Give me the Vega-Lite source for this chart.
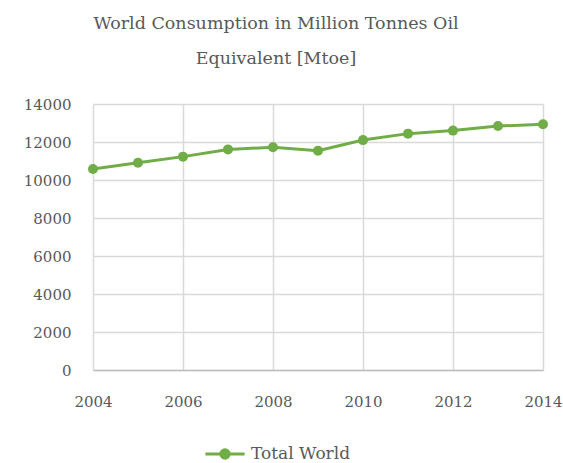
{
  "$schema": "https://vega.github.io/schema/vega-lite/v6.json",
  "width": 450,
  "height": 266,
  "autosize": {"type": "none"},
  "padding": {"left": 93, "top": 104, "right": 20, "bottom": 93},
  "background": "white",
  "title": {
    "text": ["World Consumption in Million Tonnes Oil", "Equivalent [Mtoe]"],
    "font": "DejaVu Serif",
    "fontSize": 17.5,
    "fontWeight": "normal",
    "color": "#595959",
    "lineHeight": 35,
    "anchor": "middle",
    "dx": -42,
    "offset": 30
  },
  "data": {
    "values": [
      {"year": 2004, "mtoe": 10580, "series": "Total World"},
      {"year": 2005, "mtoe": 10910, "series": "Total World"},
      {"year": 2006, "mtoe": 11230, "series": "Total World"},
      {"year": 2007, "mtoe": 11610, "series": "Total World"},
      {"year": 2008, "mtoe": 11720, "series": "Total World"},
      {"year": 2009, "mtoe": 11540, "series": "Total World"},
      {"year": 2010, "mtoe": 12100, "series": "Total World"},
      {"year": 2011, "mtoe": 12440, "series": "Total World"},
      {"year": 2012, "mtoe": 12600, "series": "Total World"},
      {"year": 2013, "mtoe": 12840, "series": "Total World"},
      {"year": 2014, "mtoe": 12930, "series": "Total World"}
    ]
  },
  "encoding": {
    "x": {
      "field": "year",
      "type": "quantitative",
      "scale": {"domain": [2004, 2014], "nice": false, "zero": false},
      "axis": {
        "title": null,
        "values": [2004, 2006, 2008, 2010, 2012, 2014],
        "format": "d",
        "ticks": false,
        "domainColor": "#bfbfbf",
        "domainWidth": 1.5,
        "labelPadding": 24,
        "labelFlush": false
      }
    },
    "y": {
      "field": "mtoe",
      "type": "quantitative",
      "scale": {"domain": [0, 14000], "nice": false},
      "axis": {
        "title": null,
        "values": [0, 2000, 4000, 6000, 8000, 10000, 12000, 14000],
        "format": "d",
        "ticks": false,
        "domain": false,
        "labelPadding": 22
      }
    },
    "color": {
      "field": "series",
      "type": "nominal",
      "scale": {"range": ["#70ad47"]},
      "legend": {
        "title": null,
        "orient": "none",
        "legendX": 118,
        "legendY": 336,
        "symbolType": "M-1.6,0L-0.33,0M0.33,0L1.6,0M-0.34,0A0.34,0.34,0,1,1,0.34,0A0.34,0.34,0,1,1,-0.34,0Z",
        "symbolSize": 600,
        "symbolStrokeWidth": 3,
        "symbolFillColor": "#70ad47",
        "symbolStrokeColor": "#70ad47",
        "labelFont": "DejaVu Serif",
        "labelFontSize": 17,
        "labelColor": "#595959",
        "labelOffset": 12
      }
    }
  },
  "layer": [
    {"mark": {"type": "line", "strokeWidth": 3}},
    {"mark": {"type": "point", "filled": true, "size": 100, "opacity": 1}}
  ],
  "config": {
    "view": {"stroke": null},
    "axis": {
      "gridColor": "#d9d9d9",
      "gridWidth": 1.5,
      "labelFont": "DejaVu Serif",
      "labelFontSize": 15,
      "labelColor": "#595959"
    }
  }
}
